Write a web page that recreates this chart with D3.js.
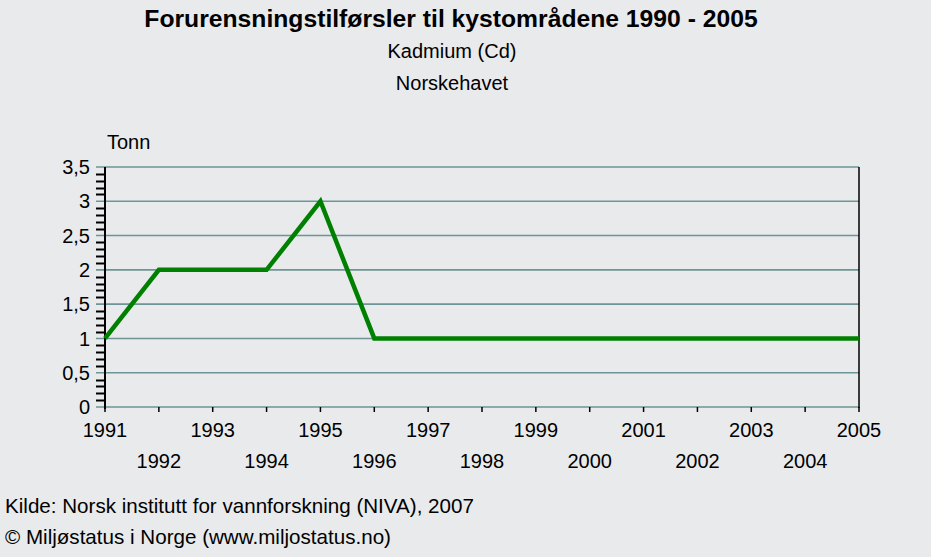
<!DOCTYPE html>
<html><head><meta charset="utf-8">
<script src="https://cdn.jsdelivr.net/npm/d3@7"></script>
<style>
html,body{margin:0;padding:0;background:#e9eaec;}
svg{display:block;font-family:"Liberation Sans",Arial,sans-serif;}
</style></head><body>
<script>
const years = [1991,1992,1993,1994,1995,1996,1997,1998,1999,2000,2001,2002,2003,2004,2005];
const values = [1,2,2,2,3,1,1,1,1,1,1,1,1,1,1];
const yTicks = [0,0.5,1,1.5,2,2.5,3,3.5];
const yTickLabels = ["0","0,5","1","1,5","2","2,5","3","3,5"];
const title = "Forurensningstilførsler til kystområdene 1990 - 2005";
const subtitle1 = "Kadmium (Cd)";
const subtitle2 = "Norskehavet";
const unitLabel = "Tonn";
const footer1 = "Kilde: Norsk institutt for vannforskning (NIVA), 2007";
const footer2 = "© Miljøstatus i Norge (www.miljostatus.no)";

const W=931,H=557;
const svg=d3.select("body").append("svg").attr("width",W).attr("height",H);
svg.append("rect").attr("width",W).attr("height",H).attr("fill","#e9eaec");

const x=d3.scaleLinear().domain([1991,2005]).range([105,859]);
const y=d3.scaleLinear().domain([0,3.5]).range([407,167]);

svg.append("text").attr("x",451).attr("y",27).attr("text-anchor","middle")
  .attr("font-size",24.7).attr("font-weight","bold").text(title);
svg.append("text").attr("x",452).attr("y",58).attr("text-anchor","middle")
  .attr("font-size",20).text(subtitle1);
svg.append("text").attr("x",452).attr("y",90).attr("text-anchor","middle")
  .attr("font-size",20).text(subtitle2);
svg.append("text").attr("x",107).attr("y",149).attr("font-size",20).text(unitLabel);

// minor ticks
const minor=d3.range(0,35).map(i=>i/10).filter(v=>Math.abs(v*2-Math.round(v*2))>1e-6);
svg.append("g").selectAll("line").data(minor).join("line")
  .attr("x1",96).attr("x2",105).attr("y1",d=>Math.round(y(d))+0.5).attr("y2",d=>Math.round(y(d))+0.5)
  .attr("stroke","#000").attr("stroke-width",2);

// gridlines
svg.append("g").selectAll("line").data(yTicks).join("line")
  .attr("x1",96).attr("x2",859).attr("y1",d=>y(d)).attr("y2",d=>y(d))
  .attr("stroke","#6d9595").attr("stroke-width",1.6);

// y labels
svg.append("g").selectAll("text").data(yTicks).join("text")
  .attr("x",90).attr("y",d=>y(d)).attr("dy","0.36em").attr("text-anchor","end")
  .attr("font-size",20).text((d,i)=>yTickLabels[i]);

// x ticks
svg.append("g").selectAll("line").data(years).join("line")
  .attr("x1",d=>x(d)).attr("x2",d=>x(d)).attr("y1",407).attr("y2",412)
  .attr("stroke","#000").attr("stroke-width",1.5);

// x labels alternating
svg.append("g").selectAll("text").data(years).join("text")
  .attr("x",d=>x(d)).attr("y",(d,i)=>i%2===0?437:468).attr("text-anchor","middle")
  .attr("font-size",20).text(d=>d);

// axes frame
svg.append("line").attr("x1",105).attr("x2",105).attr("y1",167).attr("y2",409)
  .attr("stroke","#000").attr("stroke-width",2);
svg.append("line").attr("x1",859).attr("x2",859).attr("y1",167).attr("y2",408)
  .attr("stroke","#000").attr("stroke-width",1.5);

// line
svg.append("path").datum(years.map((yr,i)=>[yr,values[i]]))
  .attr("fill","none").attr("stroke","#008000").attr("stroke-width",4.5)
  .attr("d",d3.line().x(d=>x(d[0])).y(d=>y(d[1])));

svg.append("text").attr("x",5).attr("y",513).attr("font-size",20.6).text(footer1);
svg.append("text").attr("x",5).attr("y",544).attr("font-size",20.6).text(footer2);
</script>
</body></html>
